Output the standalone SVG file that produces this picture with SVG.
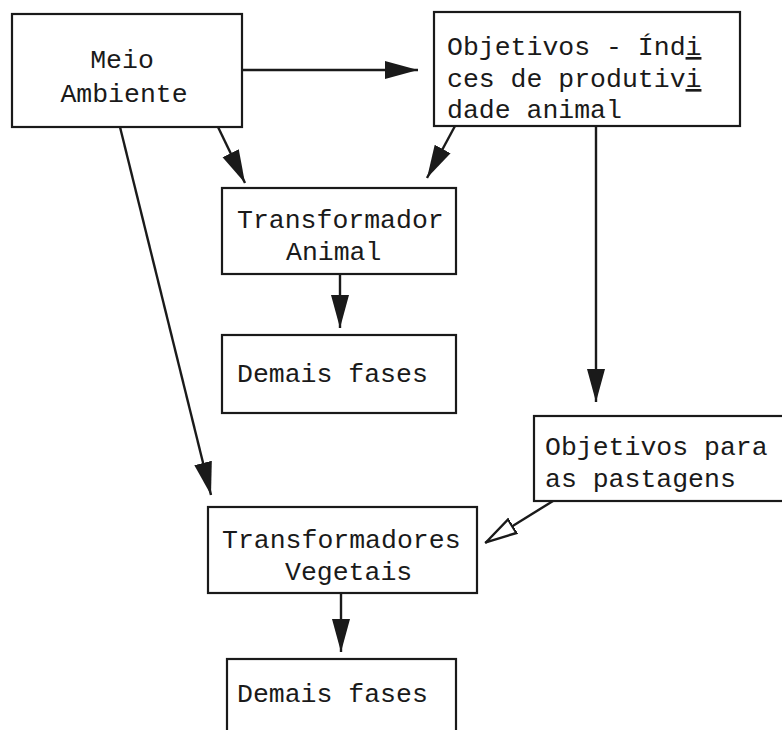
<svg xmlns="http://www.w3.org/2000/svg" width="782" height="730" viewBox="0 0 782 730">
<defs>
<style>
.box{fill:#fff;stroke:#1a1a1a;stroke-width:2.2}
.t{font-family:"Liberation Mono","Courier New",monospace;font-size:26.5px;fill:#1a1a1a}
.c{stroke:#1a1a1a;stroke-width:2.4;fill:none}
</style>
<marker id="af" markerUnits="userSpaceOnUse" markerWidth="34" markerHeight="22" viewBox="0 0 34 22" refX="33" refY="11" orient="auto">
<path d="M0,2 L33,11 L0,20 Z" fill="#1a1a1a"/>
</marker>
<marker id="ao" markerUnits="userSpaceOnUse" markerWidth="34" markerHeight="22" viewBox="0 0 34 22" refX="33" refY="11" orient="auto">
<path d="M1,3 L32,11 L1,19 Z" fill="#fff" stroke="#1a1a1a" stroke-width="2.4"/>
</marker>
</defs>
<rect width="782" height="730" fill="#fff"/>
<g id="connectors">
<line class="c" x1="242" y1="70" x2="418" y2="70" marker-end="url(#af)"/>
<line class="c" x1="218" y1="127" x2="245" y2="183" marker-end="url(#af)"/>
<line class="c" x1="455" y1="126" x2="427" y2="178" marker-end="url(#af)"/>
<line class="c" x1="340" y1="274" x2="340" y2="328" marker-end="url(#af)"/>
<line class="c" x1="120" y1="127" x2="211" y2="495" marker-end="url(#af)"/>
<line class="c" x1="596" y1="126" x2="596" y2="402" marker-end="url(#af)"/>
<line class="c" x1="553" y1="501" x2="485" y2="543" marker-end="url(#ao)"/>
<line class="c" x1="341" y1="593" x2="341" y2="652" marker-end="url(#af)"/>
</g>
<g id="meio-ambiente">
<rect class="box" x="12" y="14" width="230" height="113"/>
<text class="t" x="122" y="68" text-anchor="middle">Meio</text>
<text class="t" x="124" y="102" text-anchor="middle">Ambiente</text>
</g>
<g id="objetivos-indices">
<rect class="box" x="434" y="12" width="306" height="114"/>
<text class="t" x="447" y="55">Objetivos - Índ<tspan text-decoration="underline">i</tspan></text>
<text class="t" x="447" y="87">ces de produtiv<tspan text-decoration="underline">i</tspan></text>
<text class="t" x="447" y="118">dade animal</text>
</g>
<g id="transformador-animal">
<rect class="box" x="222" y="188" width="234" height="86"/>
<text class="t" x="237" y="228">Transformador</text>
<text class="t" x="286" y="260">Animal</text>
</g>
<g id="demais-fases-1">
<rect class="box" x="222" y="335" width="234" height="78"/>
<text class="t" x="237" y="382">Demais fases</text>
</g>
<g id="objetivos-pastagens">
<rect class="box" x="534" y="416" width="260" height="85"/>
<text class="t" x="545" y="455">Objetivos para</text>
<text class="t" x="545" y="487">as pastagens</text>
</g>
<g id="transformadores-vegetais">
<rect class="box" x="208" y="507" width="269" height="86"/>
<text class="t" x="222" y="548">Transformadores</text>
<text class="t" x="285" y="580">Vegetais</text>
</g>
<g id="demais-fases-2">
<rect class="box" x="227" y="659" width="229" height="90"/>
<text class="t" x="237" y="702">Demais fases</text>
</g>
</svg>
